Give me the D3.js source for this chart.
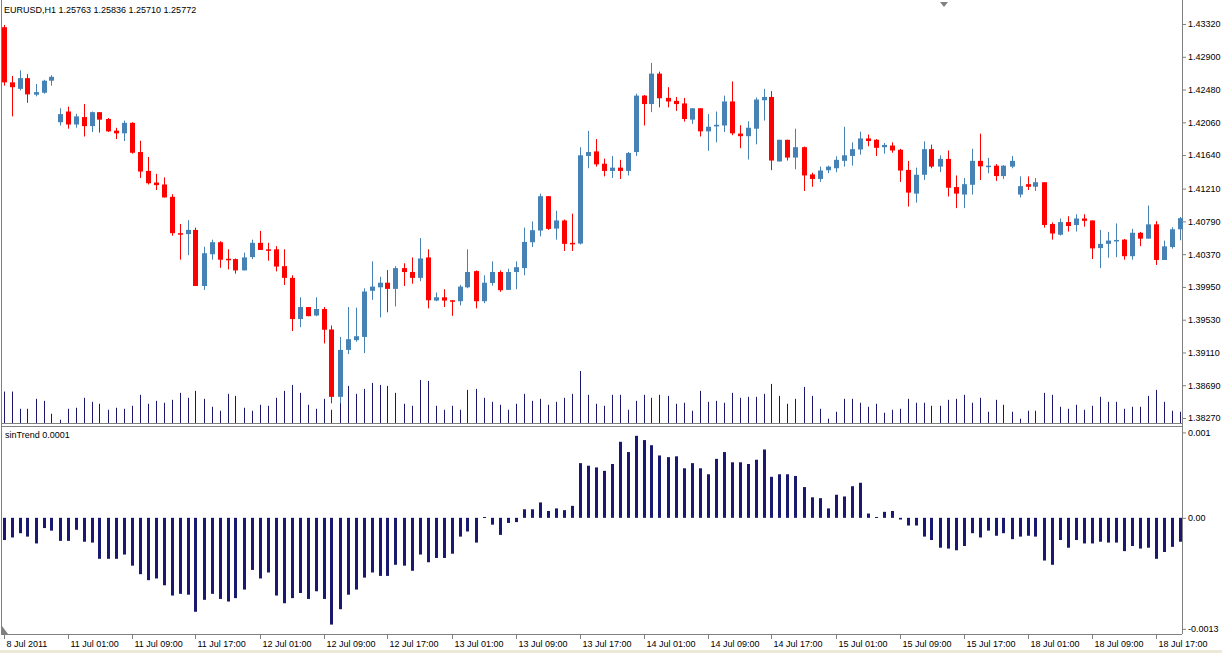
<!DOCTYPE html>
<html><head><meta charset="utf-8">
<script src="https://cdn.jsdelivr.net/npm/d3@7"></script>
<style>
  body { margin:0; background:#fff; }
  text { font-family:"Liberation Sans", Arial, sans-serif; font-size:9px; fill:#000; }
</style>
</head><body>
<div id="chart"></div>
<script>
// EURUSD H1 candles
const opens = [1.43279,1.42572,1.42489,1.42626,1.42414,1.42439,1.42593,1.42061,1.42198,1.42032,1.42127,1.42011,1.42190,1.42102,1.41953,1.41919,1.42053,1.41679,1.41437,1.41288,1.41263,1.41105,1.40639,1.40627,1.40681,1.39962,1.40369,1.40523,1.40311,1.40307,1.40162,1.40332,1.40515,1.40432,1.40432,1.40216,1.40066,1.39538,1.39692,1.39584,1.39667,1.39405,1.38541,1.39143,1.39268,1.39309,1.39900,1.39945,1.40004,1.39925,1.40191,1.40141,1.40066,1.40328,1.39775,1.39817,1.39779,1.39767,1.39945,1.40153,1.39767,1.40000,1.40141,1.39912,1.40141,1.40191,1.40523,1.40673,1.41113,1.40698,1.40802,1.40515,1.40506,1.41629,1.41687,1.41529,1.41437,1.41479,1.41437,1.41679,1.42402,1.42294,1.42684,1.42373,1.42335,1.42302,1.42094,1.42240,1.41944,1.42007,1.42019,1.42327,1.41915,1.41882,1.41978,1.42343,1.42385,1.41558,1.41836,1.41608,1.41741,1.41392,1.41334,1.41446,1.41471,1.41566,1.41629,1.41712,1.41853,1.41836,1.41741,1.41762,1.41708,1.41450,1.41146,1.41388,1.41716,1.41492,1.41591,1.41230,1.41134,1.41259,1.41566,1.41496,1.41504,1.41371,1.41492,1.41134,1.41267,1.41234,1.41292,1.40756,1.40619,1.40781,1.40744,1.40827,1.40802,1.40448,1.40502,1.40544,1.40556,1.40344,1.40644,1.40569,1.40752,1.40295,1.40461,1.40689];
const highs = [1.43308,1.42655,1.42726,1.42676,1.42551,1.42605,1.42663,1.42240,1.42260,1.42169,1.42294,1.42198,1.42190,1.42115,1.41990,1.42082,1.42061,1.41824,1.41616,1.41400,1.41354,1.41138,1.40756,1.40806,1.40710,1.40465,1.40556,1.40536,1.40432,1.40315,1.40390,1.40556,1.40668,1.40515,1.40473,1.40432,1.40099,1.39817,1.39692,1.39817,1.39692,1.39455,1.39309,1.39692,1.39684,1.39933,1.40278,1.40079,1.40166,1.40216,1.40253,1.40328,1.40577,1.40432,1.39879,1.39921,1.39779,1.39975,1.40432,1.40162,1.40099,1.40278,1.40162,1.40182,1.40278,1.40710,1.40789,1.41146,1.41113,1.40926,1.40814,1.40889,1.41741,1.41949,1.41845,1.41595,1.41629,1.41579,1.41679,1.42427,1.42410,1.42821,1.42709,1.42510,1.42385,1.42373,1.42240,1.42240,1.42165,1.42198,1.42402,1.42584,1.42023,1.42073,1.42377,1.42489,1.42460,1.41836,1.41836,1.41978,1.41749,1.41413,1.41492,1.41504,1.41624,1.42003,1.41803,1.41940,1.41903,1.41845,1.41795,1.41803,1.41720,1.41566,1.41479,1.41816,1.41774,1.41637,1.41699,1.41379,1.41346,1.41720,1.41915,1.41604,1.41525,1.41512,1.41629,1.41367,1.41367,1.41346,1.41292,1.40777,1.40827,1.40856,1.40881,1.40881,1.40802,1.40681,1.40656,1.40764,1.40565,1.40694,1.40656,1.40993,1.40793,1.40544,1.40715,1.40847];
const lows = [1.42530,1.42136,1.42468,1.42310,1.42393,1.42427,1.42530,1.42019,1.41978,1.41990,1.41878,1.41936,1.41928,1.41936,1.41845,1.41820,1.41658,1.41346,1.41263,1.41192,1.41097,1.40606,1.40299,1.40357,1.39962,1.39912,1.40299,1.40195,1.40174,1.40120,1.40162,1.40307,1.40424,1.40286,1.40149,1.39975,1.39384,1.39434,1.39575,1.39575,1.39226,1.38458,1.38458,1.39089,1.39247,1.39102,1.39784,1.39559,1.39625,1.39700,1.39962,1.39991,1.40024,1.39675,1.39767,1.39692,1.39580,1.39713,1.39933,1.39675,1.39742,1.39966,1.39887,1.39912,1.39921,1.40099,1.40461,1.40598,1.40681,1.40556,1.40411,1.40411,1.40494,1.41471,1.41492,1.41367,1.41346,1.41334,1.41379,1.41629,1.42019,1.42190,1.42252,1.42252,1.42206,1.42069,1.42040,1.41878,1.41695,1.41803,1.41936,1.41895,1.41728,1.41583,1.41778,1.42082,1.41446,1.41558,1.41570,1.41458,1.41180,1.41234,1.41296,1.41408,1.41421,1.41492,1.41504,1.41645,1.41753,1.41629,1.41658,1.41670,1.41296,1.40980,1.41030,1.41321,1.41471,1.41421,1.41109,1.40960,1.40960,1.41134,1.41321,1.41408,1.41309,1.41334,1.41471,1.41097,1.41192,1.41180,1.40710,1.40556,1.40610,1.40660,1.40660,1.40723,1.40307,1.40191,1.40324,1.40332,1.40299,1.40299,1.40473,1.40569,1.40232,1.40295,1.40440,1.40548];
const closes = [1.42572,1.42510,1.42626,1.42418,1.42447,1.42593,1.42643,1.42165,1.42032,1.42136,1.42011,1.42190,1.42094,1.41944,1.41919,1.42053,1.41670,1.41429,1.41279,1.41255,1.41097,1.40639,1.40627,1.40681,1.39962,1.40382,1.40523,1.40299,1.40303,1.40162,1.40328,1.40515,1.40424,1.40424,1.40211,1.40066,1.39538,1.39692,1.39575,1.39667,1.39401,1.38541,1.39143,1.39280,1.39318,1.39891,1.39954,1.40004,1.39925,1.40191,1.40141,1.40066,1.40315,1.39779,1.39817,1.39775,1.39767,1.39954,1.40141,1.39767,1.40004,1.40141,1.39908,1.40141,1.40203,1.40527,1.40677,1.41113,1.40694,1.40802,1.40502,1.40506,1.41637,1.41679,1.41521,1.41437,1.41479,1.41437,1.41666,1.42402,1.42294,1.42684,1.42368,1.42327,1.42294,1.42102,1.42240,1.41944,1.42003,1.42028,1.42327,1.41919,1.41882,1.41990,1.42352,1.42385,1.41570,1.41836,1.41608,1.41741,1.41379,1.41334,1.41442,1.41492,1.41579,1.41637,1.41716,1.41853,1.41820,1.41733,1.41770,1.41699,1.41442,1.41159,1.41388,1.41716,1.41492,1.41591,1.41221,1.41146,1.41267,1.41566,1.41496,1.41504,1.41371,1.41504,1.41566,1.41242,1.41234,1.41292,1.40744,1.40635,1.40781,1.40731,1.40827,1.40797,1.40444,1.40502,1.40544,1.40552,1.40344,1.40644,1.40569,1.40752,1.40295,1.40470,1.40689,1.40831];
// tick volumes (relative units)
const volumes = [95,95,43,43,73,67,28,10,43,46,76,64,58,40,46,43,52,85,58,67,61,70,91,76,97,73,49,37,88,82,46,37,55,52,76,97,115,91,55,43,73,40,112,112,88,103,121,115,112,91,58,52,130,127,52,40,52,40,100,103,76,64,55,40,58,88,67,73,55,64,76,88,157,85,58,52,85,85,40,67,85,76,85,82,58,61,37,97,64,67,61,91,76,79,79,88,118,82,58,73,109,82,43,13,34,73,73,61,49,58,31,40,43,73,61,61,52,52,70,73,85,61,76,34,70,55,34,13,37,37,91,85,49,43,55,40,52,79,64,64,43,49,49,82,100,64,37,34];
// sinTrend values, x 0.0001
const sinTrend = [-2.6,-2.3,-1.8,-2.2,-3.0,-1.2,-1.5,-2.7,-2.7,-1.4,-2.8,-2.9,-4.8,-4.8,-4.8,-4.3,-5.6,-6.6,-7.3,-7.1,-7.9,-9.1,-8.9,-9.0,-11.0,-9.6,-8.9,-9.5,-9.8,-9.4,-8.4,-6.1,-7.1,-6.4,-9.1,-10.0,-9.4,-8.8,-9.5,-8.6,-9.5,-12.5,-10.7,-9.0,-8.4,-7.0,-6.4,-6.8,-6.8,-5.5,-5.6,-6.2,-4.3,-5.2,-4.7,-4.7,-4.2,-2.2,-1.6,-2.9,0.1,-0.8,-2.0,-0.6,-0.5,1.0,1.0,1.8,0.8,1.1,0.9,1.4,6.4,6.1,5.9,5.5,6.3,8.9,7.7,9.6,9.1,8.5,7.3,7.1,7.2,5.8,6.4,5.8,5.1,6.9,7.7,6.5,6.5,6.3,6.8,8.0,4.8,5.1,5.1,4.9,3.6,2.4,2.3,1.1,2.7,2.5,3.7,4.1,0.5,0.1,0.7,0.8,-0.2,-0.9,-0.9,-2.2,-2.6,-3.5,-3.6,-3.8,-3.3,-1.8,-2.3,-1.5,-2.1,-1.8,-2.5,-2.2,-2.1,-2.2,-5.0,-5.5,-2.6,-3.5,-2.6,-3.0,-3.0,-2.8,-2.9,-2.9,-3.9,-3.3,-3.6,-3.5,-4.8,-4.0,-3.4,-2.8];
const priceTicks = [1.43320,1.42900,1.42480,1.42060,1.41640,1.41210,1.40790,1.40370,1.39950,1.39530,1.39110,1.38690,1.38270];
const timeLabels = ["8 Jul 2011","11 Jul 01:00","11 Jul 09:00","11 Jul 17:00","12 Jul 01:00","12 Jul 09:00","12 Jul 17:00","13 Jul 01:00","13 Jul 09:00","13 Jul 17:00","14 Jul 01:00","14 Jul 09:00","14 Jul 17:00","15 Jul 01:00","15 Jul 09:00","15 Jul 17:00","18 Jul 01:00","18 Jul 09:00","18 Jul 17:00"];
const indTicks = [0.001, 0.00, -0.0013];
const indTickText = ["0.001","0.00","-0.0013"];

const W = 1222, H = 653, axisX = 1182;
const svg = d3.select("#chart").append("svg").attr("width", W).attr("height", H);

const x = d3.scaleLinear().domain([0, opens.length - 1]).range([3.5, 1179.5]);
const y = d3.scaleLinear().domain([1.3827, 1.4332]).range([418, 24]);
const yv = d3.scaleLinear().domain([0, 160]).range([423, 370]);
const yi = d3.scaleLinear().domain([-0.00129, 0.001]).range([628, 432.4]);

// frames
svg.append("rect").attr("x", 0).attr("y", 650).attr("width", W).attr("height", 3).attr("fill", "#ece9d8");
svg.append("line").attr("x1", 1.5).attr("x2", 1.5).attr("y1", 0).attr("y2", 634).attr("stroke", "#808080");
svg.append("line").attr("x1", axisX + 0.5).attr("x2", axisX + 0.5).attr("y1", 0).attr("y2", 634).attr("stroke", "#808080");
[423.5, 426.5, 634.5].forEach(v => svg.append("line").attr("x1", 1).attr("x2", axisX).attr("y1", v).attr("y2", v).attr("stroke", "#808080"));

// volumes
svg.selectAll(".vol").data(volumes).enter().append("line")
  .attr("x1", (d, i) => Math.round(x(i)) + 0.5).attr("x2", (d, i) => Math.round(x(i)) + 0.5)
  .attr("y1", 423).attr("y2", d => yv(d))
  .attr("stroke", "#191970").attr("stroke-width", 1);

// candles
const idx = d3.range(opens.length);
const col = i => closes[i] >= opens[i] ? "#4682b4" : "#ff0000";
svg.selectAll(".wick").data(idx).enter().append("line")
  .attr("x1", i => Math.round(x(i)) + 0.5).attr("x2", i => Math.round(x(i)) + 0.5)
  .attr("y1", i => y(highs[i])).attr("y2", i => y(lows[i]))
  .attr("stroke", col);
svg.selectAll(".body").data(idx).enter().append("rect")
  .attr("x", i => Math.round(x(i)) - 2)
  .attr("y", i => y(Math.max(opens[i], closes[i])))
  .attr("width", 5)
  .attr("height", i => Math.max(1.5, Math.abs(y(opens[i]) - y(closes[i]))))
  .attr("fill", col);

// price axis
const pa = svg.append("g").attr("transform", `translate(${axisX},0)`)
  .call(d3.axisRight(y).tickValues(priceTicks).tickSize(4).tickFormat(d3.format(".5f")));
pa.select(".domain").remove();
pa.selectAll("line").attr("stroke", "#808080");
pa.selectAll("text").attr("x", 6).style("fill", "#000").style("font-family", "Liberation Sans").style("font-size", "9px");

svg.append("text").attr("x", 4).attr("y", 13).text("EURUSD,H1  1.25763 1.25836 1.25710 1.25772");
svg.append("path").attr("d", "M940,2 L948,2 L944,7 Z").attr("fill", "#808080");

// indicator
svg.selectAll(".ind").data(sinTrend).enter().append("rect")
  .attr("x", (d, i) => Math.round(x(i)) - 1)
  .attr("width", 3)
  .attr("y", d => yi(Math.max(0, d * 1e-4)))
  .attr("height", d => Math.max(1, Math.abs(yi(d * 1e-4) - yi(0))))
  .attr("fill", "#191970");
svg.append("text").attr("x", 5).attr("y", 438).text("sinTrend 0.0001");
const ia = svg.append("g").attr("transform", `translate(${axisX},0)`)
  .call(d3.axisRight(yi).tickValues(indTicks).tickSize(4).tickFormat((d, i) => indTickText[i]));
ia.select(".domain").remove();
ia.selectAll("line").attr("stroke", "#808080");
ia.selectAll("text").attr("x", 6).style("fill", "#000").style("font-family", "Liberation Sans").style("font-size", "9px");

// time axis
const ta = svg.append("g");
timeLabels.forEach((t, k) => {
  const xx = Math.round(x(k * 8)) + 0.5;
  ta.append("line").attr("x1", xx).attr("x2", xx).attr("y1", 634).attr("y2", 639).attr("stroke", "#808080");
  ta.append("text").attr("x", xx + 2).attr("y", 647).text(t);
});
svg.append("path").attr("d", "M2,626 L8,634 L2,634 Z").attr("fill", "#808080");
</script>
</body></html>
